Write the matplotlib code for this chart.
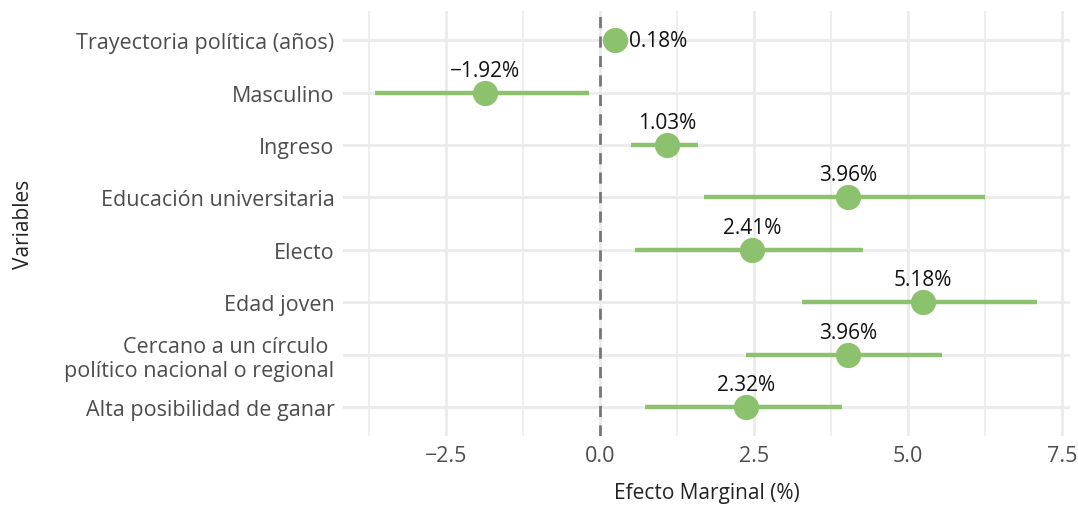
import matplotlib.pyplot as plt
from matplotlib.ticker import MultipleLocator

plt.rcParams["font.family"] = ["Open Sans", "DejaVu Sans"]

# data, top row first
variables = [
    "Trayectoria política (años)",
    "Masculino",
    "Ingreso",
    "Educación universitaria",
    "Electo",
    "Edad joven",
    "Cercano a un círculo \npolítico nacional o regional",
    "Alta posibilidad de ganar",
]
# where the dots sit, and the printed label values
effects = [0.24, -1.87, 1.09, 4.03, 2.47, 5.24, 4.03, 2.37]
effect_labels = ["0.18%", "\u22121.92%", "1.03%", "3.96%", "2.41%", "5.18%", "3.96%", "2.32%"]
ci_low = [0.20, -3.64, 0.50, 1.69, 0.57, 3.28, 2.37, 0.73]
ci_high = [0.28, -0.18, 1.59, 6.25, 4.27, 7.09, 5.55, 3.93]

green = "#8cc26d"
grid = "#ebebeb"
grey_text = "#4d4d4d"

fig = plt.figure(figsize=(10.78, 5.06), dpi=100)
ax = fig.add_axes([0.318, 0.136, 0.675, 0.840])

n = len(variables)
ypos = list(range(n, 0, -1))

ax.axvline(0, color="#777777", linestyle=(0, (4, 3)), linewidth=2, zorder=2)
ax.hlines(ypos, ci_low, ci_high, color=green, linewidth=3.2, zorder=3)
ax.scatter(effects, ypos, s=330, color=green, zorder=4, linewidths=0)

for i, (x, y, lab) in enumerate(zip(effects, ypos, effect_labels)):
    if i == 0:
        ax.text(x + 0.23, y, lab, ha="left", va="center", fontsize=15, color="#111111")
    else:
        ax.text(x, y + 0.43, lab, ha="center", va="center", fontsize=15, color="#111111")

ax.set_xlim(-4.17, 7.63)
ax.set_ylim(0.44, n + 0.56)
ax.xaxis.set_minor_locator(MultipleLocator(1.25))
ax.set_xticks([-2.5, 0.0, 2.5, 5.0, 7.5])
ax.set_xticklabels(["\u22122.5", "0.0", "2.5", "5.0", "7.5"])
ax.set_yticks(ypos)
ax.set_yticklabels(variables)

ax.grid(True, which="major", color=grid, linewidth=2, zorder=0)
ax.grid(True, which="minor", axis="x", color=grid, linewidth=1.2, zorder=0)
ax.set_axisbelow(True)
for s in ax.spines.values():
    s.set_visible(False)
ax.tick_params(which="both", length=0, labelsize=15.5, labelcolor=grey_text, pad=6)

ax.set_xlabel("Efecto Marginal (%)", fontsize=15, color="#222222", labelpad=12)
ax.set_ylabel("Variables", fontsize=15, color="#222222")
ax.yaxis.set_label_coords(-0.425, 0.5)

fig.savefig("out.png", dpi=100)
